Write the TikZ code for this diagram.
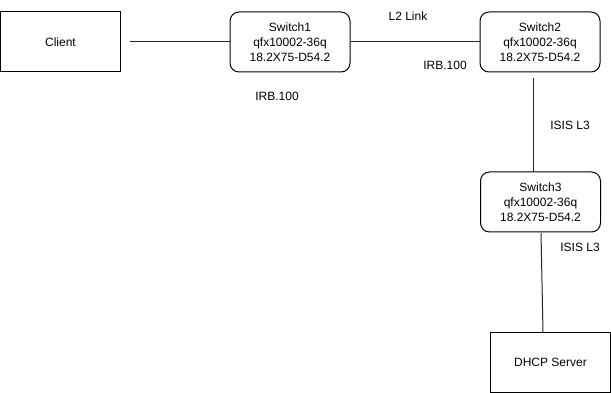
\documentclass[tikz,border=0pt]{standalone}
\usepackage{fontspec}
\setmainfont{Liberation Sans}
\begin{document}
\begin{tikzpicture}[x=1pt,y=1pt,
  every node/.style={font=\fontsize{12}{15}\selectfont},
  plainbox/.style={draw=black,line width=1pt,minimum width=120pt,minimum height=60pt,inner sep=0pt,align=center},
  switchbox/.style={plainbox,rounded corners=9pt},
  link/.style={draw=black!85,line width=1pt},
  lbl/.style={inner sep=0pt}]
\useasboundingbox (0,0) rectangle (611,-393);
\node[plainbox] (client) at (60.5,-42) {Client};
\node[switchbox] (sw1) at (290,-42) {Switch1\\qfx10002-36q\\18.2X75-D54.2};
\node[switchbox] (sw2) at (540,-42) {Switch2\\qfx10002-36q\\18.2X75-D54.2};
\node[switchbox] (sw3) at (540.5,-202) {Switch3\\qfx10002-36q\\18.2X75-D54.2};
\node[plainbox] (dhcp) at (550.5,-362) {DHCP Server};
\coordinate (c1) at (130,-42);
\coordinate (s2b) at (533,-78);
\coordinate (s3t) at (533,-172);
\coordinate (s3b) at (541,-233);
\coordinate (dt) at (543,-332);
\draw[link] (c1) -- (sw1.west);
\draw[link] (sw1.east) -- (sw2.west);
\draw[link] (s2b) -- (s3t);
\draw[link] (s3b) -- (dt);
\node[lbl] (l2) at (408,-16) {L2 Link};
\node[lbl] (irb1) at (277,-96) {IRB.100};
\node[lbl] (irb2) at (445,-65) {IRB.100};
\node[lbl] (isis1) at (570,-125) {ISIS L3};
\node[lbl] (isis2) at (580,-247) {ISIS L3};
\end{tikzpicture}
\end{document}
